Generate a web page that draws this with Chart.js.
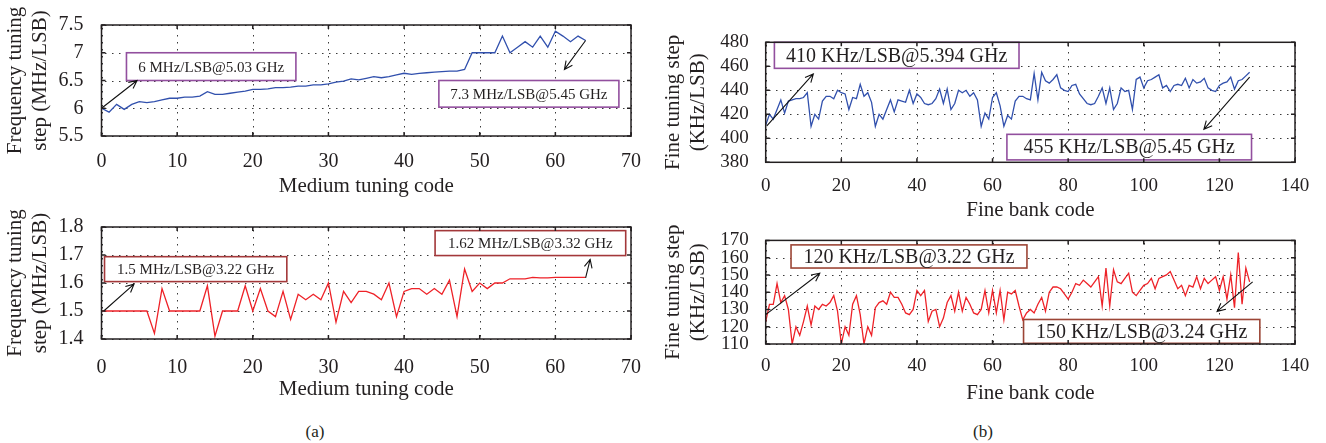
<!DOCTYPE html>
<html>
<head>
<meta charset="utf-8">
<script src="https://cdn.jsdelivr.net/npm/chart.js@4.4.0/dist/chart.umd.min.js"></script>
<style>
  html, body { margin: 0; padding: 0; background: #fff; }
  body { width: 1326px; height: 443px; position: relative; overflow: hidden; font-family: 'Liberation Serif', serif; }
  canvas { position: absolute; }
  .tag { position: absolute; font-size: 17px; color: #231f20; transform: translateX(-50%); }
</style>
</head>
<body>
<canvas id="medHigh" width="660" height="200" style="left:0;top:0"></canvas>
<canvas id="medLow" width="660" height="205" style="left:0;top:200px"></canvas>
<canvas id="fineHigh" width="666" height="223" style="left:660px;top:0"></canvas>
<canvas id="fineLow" width="666" height="186" style="left:660px;top:220px"></canvas>
<div class="tag" style="left:315px;top:422px">(a)</div>
<div class="tag" style="left:983px;top:422px">(b)</div>
<script>
const FONT = "'Liberation Serif', 'Times New Roman', serif";
const INK = '#231f20';

// (a) medium tuning bank, codes 0..64
const mediumHighStep = [
  6.0, 5.93, 6.07, 5.98, 6.07, 6.12, 6.1, 6.12, 6.15, 6.18,
  6.18, 6.2, 6.2, 6.22, 6.3, 6.25, 6.25, 6.27, 6.29, 6.31,
  6.34, 6.34, 6.35, 6.37, 6.37, 6.38, 6.4, 6.4, 6.42, 6.42,
  6.44, 6.47, 6.49, 6.53, 6.51, 6.54, 6.57, 6.55, 6.57, 6.6,
  6.63, 6.61, 6.63, 6.64, 6.65, 6.66, 6.67, 6.67, 6.7, 7.0,
  7.0, 7.0, 7.0, 7.3, 7.0, 7.1, 7.2, 7.1, 7.3, 7.1,
  7.39, 7.3, 7.2, 7.3, 7.22
];
const mediumLowStep = [
  1.5, 1.5, 1.5, 1.5, 1.5, 1.5, 1.5, 1.42, 1.58, 1.5,
  1.5, 1.5, 1.5, 1.5, 1.59, 1.41, 1.5, 1.5, 1.5, 1.59,
  1.5, 1.58, 1.5, 1.48, 1.57, 1.47, 1.56, 1.54, 1.56, 1.54,
  1.6, 1.46, 1.57, 1.53, 1.57, 1.57, 1.56, 1.54, 1.6, 1.48,
  1.57, 1.58, 1.58, 1.56, 1.58, 1.56, 1.61, 1.48, 1.65, 1.57,
  1.6, 1.58, 1.6, 1.6, 1.615, 1.615, 1.615, 1.62, 1.618, 1.618,
  1.62, 1.62, 1.62, 1.62, 1.62
];

// (b) fine bank, codes 0..128
const fineHighStep = [
  411, 420, 416, 424, 432, 421, 431, 432, 433, 433,
  434, 438, 410, 420, 416, 431, 435, 435, 433, 440,
  438, 437, 424, 434, 433, 445, 435, 438, 430, 410,
  420, 416, 424, 432, 422, 432, 431, 430, 440, 429,
  437, 434, 429, 428, 429, 433, 441, 429, 441, 424,
  429, 440, 438, 440, 435, 438, 432, 410, 421, 416,
  434, 438, 427, 410, 419, 416, 431, 435, 435, 433,
  432, 454, 432, 455, 448, 446, 449, 453, 442, 440,
  439, 444, 445, 437, 433, 429, 428, 429, 435, 442,
  429, 442, 424, 429, 442, 439, 440, 424, 449, 451,
  442, 448, 449, 451, 453, 442, 444, 439, 444, 445,
  444, 450, 442, 449, 446, 447, 450, 442, 440, 439,
  444, 446, 447, 451, 441, 448, 449, 452, 455
];
const fineLowStep = [
  123, 133, 133, 145, 134, 138, 130, 110, 120, 115,
  123, 132, 121, 132, 130, 133, 132, 134, 138, 129,
  110, 120, 115, 133, 138, 127, 110, 120, 115, 131,
  134, 135, 133, 140, 137, 137, 133, 128, 127, 130,
  141, 138, 141, 123, 129, 130, 120, 125, 134, 138,
  129, 140, 129, 137, 133, 128, 127, 130, 141, 128,
  141, 128, 141, 124, 140, 139, 141, 132, 124, 128,
  130, 128, 133, 137, 129, 140, 143, 143, 142, 139,
  136, 140, 145, 144, 147, 145, 143, 146, 149, 132,
  154, 132, 153, 146, 145, 148, 151, 140, 138, 141,
  144, 145, 148, 142, 148, 149, 150, 152, 147, 142,
  144, 138, 144, 143, 149, 142, 148, 145, 147, 149,
  141, 149, 136, 150, 131, 163, 133, 154, 146
];

// tick labels
const mediumCodeTicks = [0, 10, 20, 30, 40, 50, 60, 70];
const fineCodeTicks = [0, 20, 40, 60, 80, 100, 120, 140];
const mediumHighTicks = [5.5, 6, 6.5, 7, 7.5];
const mediumLowTicks = [1.4, 1.5, 1.6, 1.7, 1.8];
const fineHighTicks = [380, 400, 420, 440, 460, 480];
const fineLowTicks = [110, 120, 130, 140, 150, 160, 170];

// dotted grid (matlab ':' style), box + arrow notes, black frame with inward ticks
const framePlugin = {
  id: 'frame',
  beforeDatasetsDraw(chart) {
    const {ctx, chartArea: a, scales: {x, y}} = chart;
    const gap = 7;
    ctx.save();
    ctx.fillStyle = '#3a3a3a';
    x.ticks.forEach(t => {
      const p = Math.round(x.getPixelForValue(t.value));
      for (let q = a.top + 3; q < a.bottom - 1; q += gap) ctx.fillRect(p, Math.round(q), 1, 1.5);
    });
    y.ticks.forEach(t => {
      const p = Math.round(y.getPixelForValue(t.value));
      for (let q = a.left + 3; q < a.right - 1; q += gap) ctx.fillRect(Math.round(q), p, 1.5, 1);
    });
    ctx.restore();
  },
  afterDatasetsDraw(chart, args, opts) {
    const {ctx, chartArea: a, scales: {x, y}} = chart;
    ctx.save();
    (opts.notes || []).forEach(n => {
      const l = x.getPixelForValue(n.box[0]), r = x.getPixelForValue(n.box[1]);
      const b = y.getPixelForValue(n.box[2]), t = y.getPixelForValue(n.box[3]);
      ctx.fillStyle = '#fff';
      ctx.fillRect(l, t, r - l, b - t);
      ctx.strokeStyle = opts.boxColor;
      ctx.lineWidth = 1.6;
      ctx.strokeRect(l, t, r - l, b - t);
      ctx.fillStyle = INK;
      ctx.font = opts.noteFont;
      ctx.textAlign = 'center';
      ctx.textBaseline = 'middle';
      ctx.fillText(n.text, (l + r) / 2, (t + b) / 2 + 1);

      const x0 = x.getPixelForValue(n.from[0]), y0 = y.getPixelForValue(n.from[1]);
      const x1 = x.getPixelForValue(n.to[0]), y1 = y.getPixelForValue(n.to[1]);
      const ang = Math.atan2(y1 - y0, x1 - x0), h = 9;
      ctx.strokeStyle = '#111';
      ctx.lineWidth = 1.1;
      ctx.beginPath();
      ctx.moveTo(x0, y0);
      ctx.lineTo(x1, y1);
      ctx.moveTo(x1 - h * Math.cos(ang - 0.45), y1 - h * Math.sin(ang - 0.45));
      ctx.lineTo(x1, y1);
      ctx.lineTo(x1 - h * Math.cos(ang + 0.45), y1 - h * Math.sin(ang + 0.45));
      ctx.stroke();
    });

    ctx.strokeStyle = INK;
    ctx.lineWidth = 1.5;
    ctx.beginPath();
    x.ticks.forEach(t => {
      const p = x.getPixelForValue(t.value);
      ctx.moveTo(p, a.bottom); ctx.lineTo(p, a.bottom - 4);
      ctx.moveTo(p, a.top); ctx.lineTo(p, a.top + 4);
    });
    y.ticks.forEach(t => {
      const p = y.getPixelForValue(t.value);
      ctx.moveTo(a.left, p); ctx.lineTo(a.left + 4, p);
      ctx.moveTo(a.right, p); ctx.lineTo(a.right - 4, p);
    });
    ctx.stroke();
    ctx.strokeRect(a.left, a.top, a.right - a.left, a.bottom - a.top);
    ctx.restore();
  }
};

function axis(ticks, title, o, horizontal) {
  return {
    type: 'linear',
    min: ticks[0],
    max: ticks[ticks.length - 1],
    afterBuildTicks: s => { s.ticks = ticks.map(v => ({value: v})); },
    afterFit: s => {
      if (horizontal) s.height = o.xHeight; else s.width = o.yWidth;
    },
    ticks: {
      color: INK,
      autoSkip: false,
      maxRotation: 0,
      padding: horizontal ? o.xTickPad : o.yTickPad,
      font: {family: FONT, size: o.tickSize},
      callback: v => String(v)
    },
    grid: {display: false},
    border: {display: false},
    title: {
      display: true,
      text: title,
      color: INK,
      font: {family: FONT, size: 21},
      padding: horizontal ? {top: 0, bottom: o.xTitlePad} : {top: o.yTitlePad, bottom: 0}
    }
  };
}

function makeChart(id, o) {
  return new Chart(document.getElementById(id), {
    type: 'line',
    data: {
      datasets: [{
        data: o.values.map((v, i) => ({x: i, y: v})),
        borderColor: o.color,
        borderWidth: 1.3,
        pointRadius: 0,
        tension: 0,
        fill: false
      }]
    },
    options: {
      responsive: false,
      animation: false,
      devicePixelRatio: 1,
      layout: {padding: o.pad},
      plugins: {
        legend: {display: false},
        tooltip: {enabled: false},
        frame: {notes: o.notes, boxColor: o.boxColor, noteFont: o.noteFont}
      },
      scales: {
        x: axis(o.xTicks, o.xTitle, o, true),
        y: axis(o.yTicks, o.yTitle, o, false)
      }
    },
    plugins: [framePlugin]
  });
}

makeChart('medHigh', {
  values: mediumHighStep, color: '#3150ad',
  xTicks: mediumCodeTicks, yTicks: mediumHighTicks,
  xTitle: 'Medium tuning code', yTitle: ['Frequency tuning', 'step (MHz/LSB)'],
  pad: {left: 0, top: 25, right: 29, bottom: 0},
  xHeight: 64, yWidth: 101.5, xTickPad: 5.5, yTickPad: 10, xTitlePad: 1.4, yTitlePad: 2.4, tickSize: 20,
  boxColor: '#924f9e', noteFont: '15px ' + FONT,
  notes: [
    {box: [3.3, 25.7, 6.5, 7.0], text: '6 MHz/LSB@5.03 GHz', from: [0, 6.0], to: [4.7, 6.5]},
    {box: [44.6, 68.4, 6.02, 6.5], text: '7.3 MHz/LSB@5.45 GHz', from: [64, 7.22], to: [61.2, 6.7]}
  ]
});

makeChart('medLow', {
  values: mediumLowStep, color: '#ee2228',
  xTicks: mediumCodeTicks, yTicks: mediumLowTicks,
  xTitle: 'Medium tuning code', yTitle: ['Frequency tuning', 'step (MHz/LSB)'],
  pad: {left: 0, top: 27, right: 29, bottom: 0},
  xHeight: 66, yWidth: 101.5, xTickPad: 9, yTickPad: 10, xTitlePad: 2.8, yTitlePad: 2.4, tickSize: 20,
  boxColor: '#a3383a', noteFont: '15px ' + FONT,
  notes: [
    {box: [0.4, 24.5, 1.605, 1.694], text: '1.5 MHz/LSB@3.22 GHz', from: [0.3, 1.5], to: [4.3, 1.596]},
    {box: [44.1, 69.3, 1.698, 1.787], text: '1.62 MHz/LSB@3.32 GHz', from: [64, 1.618], to: [64.6, 1.684]}
  ]
});

makeChart('fineHigh', {
  values: fineHighStep, color: '#3150ad',
  xTicks: fineCodeTicks, yTicks: fineHighTicks,
  xTitle: 'Fine bank code', yTitle: ['Fine tuning step', '(KHz/LSB)'],
  pad: {left: 0, top: 42.3, right: 31, bottom: 0},
  xHeight: 60.7, yWidth: 105.7, xTickPad: 4.5, yTickPad: 9, xTitlePad: 0.4, yTitlePad: 1.1, tickSize: 19,
  boxColor: '#924f9e', noteFont: '20px ' + FONT,
  notes: [
    {box: [2.3, 67, 458.3, 480], text: '410 KHz/LSB@5.394 GHz', from: [0.3, 410.3], to: [12.6, 453.6]},
    {box: [63.8, 128.5, 382, 403.3], text: '455 KHz/LSB@5.45 GHz', from: [128, 451], to: [115.9, 407.5]}
  ]
});

makeChart('fineLow', {
  values: fineLowStep, color: '#ee2228',
  xTicks: fineCodeTicks, yTicks: fineLowTicks,
  xTitle: 'Fine bank code', yTitle: ['Fine tuning step', '(KHz/LSB)'],
  pad: {left: 0, top: 10.7, right: 31, bottom: 0},
  xHeight: 62, yWidth: 105.7, xTickPad: 3, yTickPad: 9, xTitlePad: 0.4, yTitlePad: 1.1, tickSize: 19,
  boxColor: '#9c4536', noteFont: '20px ' + FONT,
  notes: [
    {box: [6.7, 69.1, 154, 167.4], text: '120 KHz/LSB@3.22 GHz', from: [0, 127], to: [14.3, 151]},
    {box: [68.2, 130.7, 110.4, 124.2], text: '150 KHz/LSB@3.24 GHz', from: [128.8, 146], to: [119.4, 128.9]}
  ]
});
</script>
</body>
</html>
